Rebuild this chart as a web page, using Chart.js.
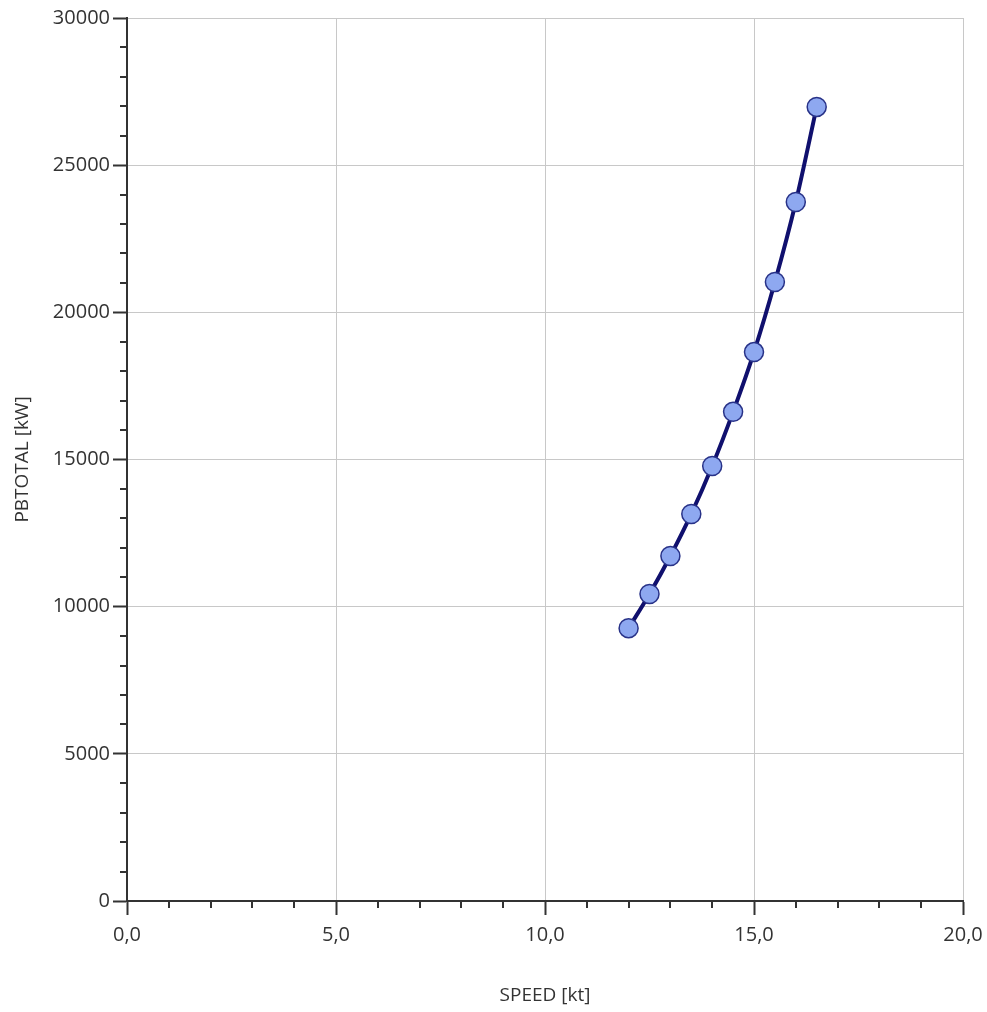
<!DOCTYPE html>
<html>
<head>
<meta charset="utf-8">
<script src="https://cdn.jsdelivr.net/npm/chart.js@4/dist/chart.umd.min.js"></script>
<style>
  html, body { margin: 0; padding: 0; background: #fff; }
  canvas { display: block; }
</style>
</head>
<body>
<canvas id="speedChart" width="987" height="1012"></canvas>
<script>
// speed [kt] vs total power [kW]
const speeds = [12.0, 12.5, 13.0, 13.5, 14.0, 14.5, 15.0, 15.5, 16.0, 16.5]
const power = [9270, 10430, 11720, 13150, 14780, 16620, 18650, 21030, 23750, 26980]

const xMajorTicks = [0, 5, 10, 15, 20]
const yMajorTicks = [0, 5000, 10000, 15000, 20000, 25000, 30000]

const axisColor = '#333333'
const gridColor = '#c8c8c8'
const fontFamily = "'Open Sans', 'Noto Sans', sans-serif"

// small tick marks between the labelled ones
const minorTicks = {
    id: 'minorTicks',
    afterDraw(chart) {
        const ctx = chart.ctx
        const xs = chart.scales.x
        const ys = chart.scales.y
        ctx.save()
        ctx.strokeStyle = axisColor
        ctx.lineWidth = 2
        ctx.beginPath()
        for (let v = xs.min; v <= xs.max; v += 1) {
            if (xMajorTicks.includes(v)) continue
            const px = Math.round(xs.getPixelForValue(v))
            ctx.moveTo(px, ys.bottom)
            ctx.lineTo(px, ys.bottom + 7)
        }
        for (let v = ys.min; v <= ys.max; v += 1000) {
            if (yMajorTicks.includes(v)) continue
            const py = Math.round(ys.getPixelForValue(v))
            ctx.moveTo(xs.left, py)
            ctx.lineTo(xs.left - 7, py)
        }
        ctx.stroke()
        ctx.restore()
    }
}

const ctx = document.getElementById('speedChart').getContext('2d')
new Chart(ctx, {
    type: 'line',
    data: {
        datasets: [{
            data: speeds.map((s, i) => ({ x: s, y: power[i] })),
            borderColor: '#10106e',
            borderWidth: 4,
            backgroundColor: '#8ea8f0',
            pointBackgroundColor: '#8ea8f0',
            pointBorderColor: '#283288',
            pointBorderWidth: 1.5,
            pointRadius: 9.5,
            cubicInterpolationMode: 'monotone',
            fill: false
        }]
    },
    options: {
        responsive: false,
        animation: false,
        layout: { padding: { top: 18, right: 24, bottom: 0, left: 0 } },
        plugins: {
            legend: { display: false },
            tooltip: { enabled: false }
        },
        scales: {
            x: {
                type: 'linear',
                min: 0,
                max: 20,
                afterFit(scale) {
                    scale.height = 111
                    scale.paddingLeft = 0
                    scale.paddingRight = 0
                },
                ticks: {
                    stepSize: 1,
                    autoSkip: false,
                    maxRotation: 0,
                    padding: 8,
                    color: axisColor,
                    font: { family: fontFamily, size: 20 },
                    callback: v => xMajorTicks.includes(v) ? v.toFixed(1).replace('.', ',') : ''
                },
                grid: {
                    color: c => xMajorTicks.includes(c.tick.value) ? gridColor : 'rgba(0,0,0,0)',
                    tickColor: c => xMajorTicks.includes(c.tick.value) ? axisColor : 'rgba(0,0,0,0)',
                    tickLength: 14,
                    tickWidth: 2,
                    lineWidth: 1
                },
                border: { color: axisColor, width: 2 },
                title: {
                    display: true,
                    text: 'SPEED [kt]',
                    color: axisColor,
                    font: { family: fontFamily, size: 19 },
                    padding: { top: 0, bottom: 5 }
                }
            },
            y: {
                min: 0,
                max: 30000,
                afterFit(scale) { scale.width = 127 },
                ticks: {
                    stepSize: 1000,
                    autoSkip: false,
                    padding: 3,
                    color: axisColor,
                    font: { family: fontFamily, size: 20 },
                    callback: v => yMajorTicks.includes(v) ? String(v) : ''
                },
                grid: {
                    color: c => yMajorTicks.includes(c.tick.value) ? gridColor : 'rgba(0,0,0,0)',
                    tickColor: c => yMajorTicks.includes(c.tick.value) ? axisColor : 'rgba(0,0,0,0)',
                    tickLength: 14,
                    tickWidth: 2,
                    lineWidth: 1
                },
                border: { color: axisColor, width: 2 },
                title: {
                    display: true,
                    text: 'PBTOTAL [kW]',
                    color: axisColor,
                    font: { family: fontFamily, size: 19 },
                    padding: { top: 11, bottom: 0 }
                }
            }
        }
    },
    plugins: [minorTicks]
})
</script>
</body>
</html>
